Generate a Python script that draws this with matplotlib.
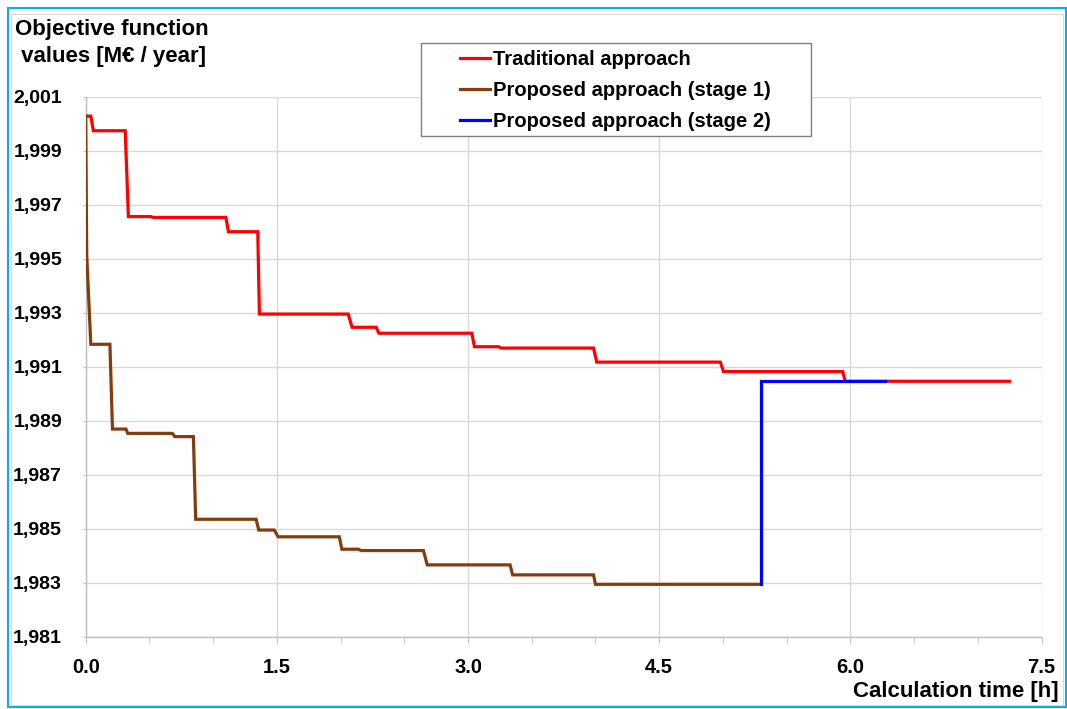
import numpy as np
import matplotlib.pyplot as plt
from matplotlib.patches import Rectangle
from matplotlib.lines import Line2D
from matplotlib.ticker import MultipleLocator, FixedLocator, FuncFormatter

plt.rcParams['font.family'] = ['Liberation Sans', 'DejaVu Sans']
plt.rcParams['font.weight'] = 'bold'

# traditional approach (time [h], objective [M€/year])
trad_t = [0, 0.04, 0.06, 0.31, 0.335, 0.51, 0.53, 1.10, 1.12, 1.35, 1.363, 2.06, 2.09,
          2.28, 2.30, 3.03, 3.05, 3.24, 3.26, 3.985, 4.01, 4.98, 5.005, 5.94, 5.96, 7.25]
trad_v = [2000.28, 2000.28, 1999.74, 1999.74, 1996.56, 1996.56, 1996.53, 1996.53, 1996.0,
          1996.0, 1992.95, 1992.95, 1992.46, 1992.46, 1992.24, 1992.24, 1991.74, 1991.74,
          1991.69, 1991.69, 1991.17, 1991.17, 1990.82, 1990.82, 1990.46, 1990.46]

# proposed approach, stage 1
st1_t = [0, 0.008, 0.04, 0.19, 0.21, 0.316, 0.33, 0.68, 0.70, 0.845, 0.863, 1.337, 1.358,
         1.48, 1.51, 1.99, 2.01, 2.14, 2.16, 2.65, 2.68, 3.33, 3.35, 3.985, 4.0, 5.30]
st1_v = [2000.28, 1995.14, 1991.83, 1991.83, 1988.69, 1988.69, 1988.53, 1988.53, 1988.41,
         1988.41, 1985.35, 1985.35, 1984.95, 1984.95, 1984.70, 1984.70, 1984.24, 1984.24,
         1984.19, 1984.19, 1983.66, 1983.66, 1983.29, 1983.29, 1982.94, 1982.94]

# proposed approach, stage 2
st2_t = [5.30, 5.30, 6.27]
st2_v = [1982.94, 1990.46, 1990.46]

y_ticks = [1981, 1983, 1985, 1987, 1989, 1991, 1993, 1995, 1997, 1999, 2001]
labels = ['Traditional approach', 'Proposed approach (stage 1)', 'Proposed approach (stage 2)']
colors = ['#FF0000', '#843C0C', '#0000FF']

W, H = 1067, 709
fig = plt.figure(figsize=(W / 100, H / 100), dpi=100)
ax = fig.add_axes([85.7 / W, 1 - 636.7 / H, (1041.5 - 85.7) / W, (636.7 - 96.7) / H])

lw = 2.3
ax.plot(trad_t, trad_v, color=colors[0], lw=lw, solid_joinstyle='miter', zorder=3)
ax.plot(st1_t, st1_v, color=colors[1], lw=lw, solid_joinstyle='miter', zorder=3)
ax.plot(st2_t, st2_v, color=colors[2], lw=lw, solid_joinstyle='miter', zorder=4)

ax.set_xlim(0, 7.5)
ax.set_ylim(1981, 2001)
ax.xaxis.set_major_locator(MultipleLocator(1.5))
ax.xaxis.set_minor_locator(MultipleLocator(0.5))
ax.yaxis.set_major_locator(FixedLocator(y_ticks))
ax.xaxis.set_major_formatter(FuncFormatter(lambda v, p: f"{v:.1f}"))
ax.yaxis.set_major_formatter(FuncFormatter(lambda v, p: f"{v:,.0f}"))
ax.grid(True, which='major', color='#D9D9D9', lw=1.0)
ax.set_axisbelow(True)

for s in ['top', 'right']:
    ax.spines[s].set_visible(False)
for s in ['left', 'bottom']:
    ax.spines[s].set_color('#BFBFBF')
    ax.spines[s].set_linewidth(1.0)

ax.tick_params(axis='x', which='both', direction='out', length=4, color='#BFBFBF',
               labelsize=14.5, pad=11)
ax.tick_params(axis='y', which='major', direction='out', length=2, color='#BFBFBF',
               labelsize=14, pad=15)
for lab in ax.get_xticklabels() + ax.get_yticklabels():
    lab.set_fontweight('bold')

# axis titles
fig.text(15 / W, 1 - 34.7 / H, 'Objective function', fontsize=16, fontweight='bold',
         ha='left', va='baseline')
fig.text(15 / W, 1 - 61.7 / H, ' values [M€ / year]', fontsize=16, fontweight='bold',
         ha='left', va='baseline')
fig.text(1059 / W, 1 - 697 / H, 'Calculation time [h]', fontsize=16, fontweight='bold',
         ha='right', va='baseline')

# legend box
fig.patches.append(Rectangle((421 / W, 1 - 136 / H), (811 - 421) / W, (136 - 43) / H,
                             transform=fig.transFigure, facecolor='white',
                             edgecolor='#7F7F7F', lw=1.0, zorder=1))
handles = [Line2D([], [], color=c, lw=lw) for c in colors]
fig.legend(handles, labels, loc='upper left', bbox_to_anchor=(460 / W, 1 - 50 / H),
           frameon=False, handlelength=1.5, handletextpad=0.12,
           labelspacing=0.59, borderpad=0, borderaxespad=0,
           prop={'weight': 'bold', 'size': 14.5})

# outer chart border
fig.patches.append(Rectangle((8 / W, 2 / H), (1066 - 8) / W, (707 - 8) / H,
                             transform=fig.transFigure, facecolor='none',
                             edgecolor='#00B0F0', lw=1.5, zorder=0))
fig.patches.append(Rectangle((10.5 / W, 4 / H), (1063 - 10.5) / W, (703 - 11.5) / H,
                             transform=fig.transFigure, facecolor='none',
                             edgecolor='#D9D9D9', lw=0.8, zorder=0))

fig.savefig('out.png', dpi=100)
